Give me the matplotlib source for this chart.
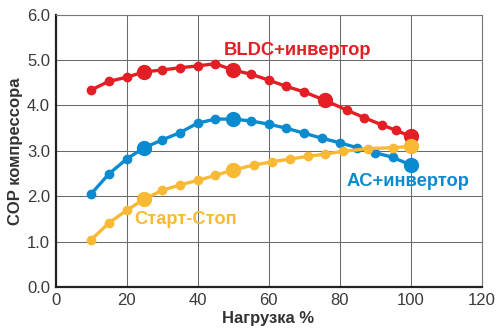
import numpy as np
import matplotlib
matplotlib.use("Agg")
import matplotlib.pyplot as plt

plt.rcParams['font.family'] = ['Liberation Sans', 'DejaVu Sans']

# BLDC + inverter (red)
bldc_x = [10, 15, 20, 25, 30, 35, 40, 45, 50, 55, 60, 65, 70, 76, 82, 87, 92, 96, 100]
bldc_y = [4.34, 4.53, 4.62, 4.74, 4.78, 4.83, 4.87, 4.92, 4.78, 4.69, 4.56, 4.42, 4.30,
          4.11, 3.90, 3.73, 3.57, 3.45, 3.32]
bldc_big = [25, 50, 76, 100]

# AC + inverter (blue)
ac_x = [10, 15, 20, 25, 30, 35, 40, 45, 50, 55, 60, 65, 70, 75, 80, 85, 90, 95, 100]
ac_y = [2.05, 2.49, 2.82, 3.07, 3.24, 3.40, 3.61, 3.70, 3.70, 3.66, 3.59, 3.50, 3.39,
        3.28, 3.18, 3.07, 2.96, 2.86, 2.69]
ac_big = [25, 50, 100]

# Start-Stop (orange)
ss_x = [10, 15, 20, 25, 30, 35, 40, 45, 50, 56, 61, 66, 71, 76, 81, 88, 95, 100]
ss_y = [1.04, 1.41, 1.69, 1.94, 2.13, 2.25, 2.35, 2.46, 2.58, 2.69, 2.76, 2.82, 2.88,
        2.93, 2.99, 3.05, 3.07, 3.10]
ss_big = [25, 50, 100]

red = '#e31e24'
blue = '#0a8bd0'
orange = '#f8b935'

fig = plt.figure(figsize=(5, 3.32), dpi=100)
ax = fig.add_axes([0.111, 0.135, 0.852, 0.821])

series = [(bldc_x, bldc_y, bldc_big, red),
          (ac_x, ac_y, ac_big, blue),
          (ss_x, ss_y, ss_big, orange)]
for xs, ys, big, c in series:
    ax.plot(xs, ys, '-o', color=c, lw=2.4, ms=6, zorder=3)
    bx = [x for x in xs if x in big]
    by = [y for x, y in zip(xs, ys) if x in big]
    ax.plot(bx, by, 'o', color=c, ms=10, zorder=4)

ax.text(47.5, 5.22, 'BLDC+инвертор', color=red, fontsize=13.2, fontweight='bold', va='center')
ax.text(82, 2.32, 'AC+инвертор', color=blue, fontsize=13.2, fontweight='bold', va='center')
ax.text(22.3, 1.48, 'Старт-Стоп', color=orange, fontsize=13.2, fontweight='bold', va='center')

ax.set_xlim(0, 120)
ax.set_ylim(0, 6)
ax.set_xticks(np.arange(0, 121, 20))
ax.set_yticks(np.arange(0, 6.1, 1))
ax.set_yticklabels([f'{v:.1f}' for v in np.arange(0, 6.1, 1)])
ax.grid(True, color='#6a6a6a', lw=0.75)
ax.set_axisbelow(True)
for s in ['top', 'right']:
    ax.spines[s].set_color('#777777')
    ax.spines[s].set_linewidth(0.8)
for s in ['left', 'bottom']:
    ax.spines[s].set_color('#222222')
    ax.spines[s].set_linewidth(1.6)
ax.tick_params(labelsize=12, labelcolor='#3a3a3a', length=0, pad=4)
ax.set_xlabel('Нагрузка %', fontsize=12, fontweight='bold', color='#333333', labelpad=2)
ax.set_ylabel('COP компрессора', fontsize=12, fontweight='bold', color='#333333', labelpad=3)

fig.savefig('out.png', dpi=100)
